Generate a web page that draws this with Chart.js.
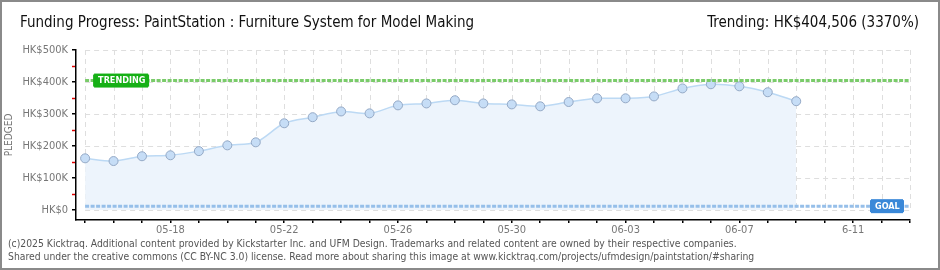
<!DOCTYPE html>
<html lang="en">
<head>
  <meta charset="utf-8">
  <title>Funding Progress - PaintStation</title>
  <script src="https://cdn.jsdelivr.net/npm/chart.js@4"></script>
  <style>
    body { margin: 0; background: #fff; }
    #wrap { position: relative; width: 940px; height: 270px; overflow: hidden; }
    #graph { position: absolute; left: 0; top: 0; }
    #frame { position: absolute; left: 0; top: 0; width: 940px; height: 270px; box-sizing: border-box;
             border: 2px solid #8a8a8a; pointer-events: none; }
    .txt { position: absolute; white-space: nowrap; font-family: "DejaVu Sans Condensed", "DejaVu Sans", sans-serif; }
    #title { left: 20px; top: 13px; font-size: 15px; color: #111; }
    #trend { right: 21px; top: 13px; font-size: 15px; color: #111; }
    #foot { left: 8px; top: 237px; font-size: 10.3px; line-height: 13px; color: #555; }
  </style>
</head>
<body>
  <div id="wrap">
    <canvas id="graph" width="940" height="270"></canvas>
    <div id="title" class="txt">Funding Progress: PaintStation : Furniture System for Model Making</div>
    <div id="trend" class="txt">Trending: HK$404,506 (3370%)</div>
    <div id="foot" class="txt">(c)2025 Kicktraq. Additional content provided by Kickstarter Inc. and UFM Design. Trademarks and related content are owned by their respective companies.<br>Shared under the creative commons (CC BY-NC 3.0) license. Read more about sharing this image at www.kicktraq.com/projects/ufmdesign/paintstation/#sharing</div>
    <div id="frame"></div>
  </div>
  <script>
    // days on the x axis, 05-15 .. 06-13
    const dates = ['05-15','05-16','05-17','05-18','05-19','05-20','05-21','05-22','05-23','05-24',
                   '05-25','05-26','05-27','05-28','05-29','05-30','05-31','06-01','06-02','06-03',
                   '06-04','06-05','06-06','06-07','06-08','06-09','06-10','06-11','06-12','06-13'];
    // labels shown under every 4th day starting at 05-18
    const dateLabels = ['05-18','05-22','05-26','05-30','06-03','06-07','6-11'];
    // pledged per day (HK$)
    const pledged = [161500,153000,168000,171000,184000,202000,211500,271000,290000,308000,
                     302000,327000,333000,343000,333000,330000,324000,337500,349000,349000,
                     355000,380000,393000,386500,368000,340000];
    const trending = 404506;
    const goal = 12003;
    const yTicks = [0,100000,200000,300000,400000,500000];
    const yMinor = [50000,150000,250000,350000,450000];

    const FONT = '"DejaVu Sans Condensed", "DejaVu Sans", sans-serif';
    Chart.defaults.font.family = FONT;

    function dashedGrid(chart) {
      const ctx = chart.ctx, xs = chart.scales.x, ys = chart.scales.y;
      const x0 = xs.getPixelForValue(0), x1 = xs.getPixelForValue(dates.length - 1);
      const yTop = ys.getPixelForValue(yTicks[yTicks.length - 1]), yBot = ys.getPixelForValue(0);
      ctx.save();
      ctx.strokeStyle = '#dedede';
      ctx.lineWidth = 1;
      ctx.setLineDash([5, 4]);
      for (var i = 0; i < dates.length; i++) {
        var x = Math.round(xs.getPixelForValue(i)) + 0.5;
        ctx.beginPath(); ctx.moveTo(x, yTop); ctx.lineTo(x, yBot); ctx.stroke();
      }
      yTicks.forEach(v => {
        var y = Math.round(ys.getPixelForValue(v)) + 0.5;
        ctx.beginPath(); ctx.moveTo(x0, y); ctx.lineTo(x1, y); ctx.stroke();
      });
      ctx.restore();
    }

    function badge(ctx, text, x, y, w, h, color) {
      ctx.fillStyle = color;
      ctx.fillRect(x + 1, y, w - 2, h);
      ctx.fillRect(x, y + 1, w, h - 2);
      ctx.fillStyle = '#fff';
      ctx.font = 'bold 9px ' + FONT;
      ctx.textBaseline = 'middle';
      ctx.textAlign = 'left';
      ctx.fillText(text, x + 5, y + h / 2 + 0.5);
    }

    const extras = {
      id: 'extras',
      beforeDatasetsDraw(chart) { dashedGrid(chart); },
      afterDatasetsDraw(chart) {
        const ctx = chart.ctx, xs = chart.scales.x, ys = chart.scales.y;
        ctx.save();
        var yt = ys.getPixelForValue(trending);
        badge(ctx, 'TRENDING', xs.getPixelForValue(0) + 8, yt - 7, 56, 14, '#16b016');
        var yg = ys.getPixelForValue(goal);
        badge(ctx, 'GOAL', xs.getPixelForValue(dates.length - 1) - 40, yg - 7, 34, 14, '#3a88d8');
        // red minor ticks on the y axis
        ctx.strokeStyle = '#e00000';
        ctx.lineWidth = 1.5;
        yMinor.forEach(v => {
          var y = Math.round(ys.getPixelForValue(v)) + 0.5;
          ctx.beginPath(); ctx.moveTo(xs.left - 4, y); ctx.lineTo(xs.left - 1, y); ctx.stroke();
        });
        ctx.restore();
      }
    };

    const flat = v => [{ x: 0, y: v }, { x: dates.length - 1, y: v }];

    new Chart(document.getElementById('graph'), {
      type: 'line',
      data: {
        datasets: [{
          data: pledged.map((v, i) => ({ x: i, y: v })),
          fill: 'origin',
          backgroundColor: '#edf4fc',
          borderColor: '#bcd9f4',
          borderWidth: 1.5,
          tension: 0.3,
          pointRadius: 4.5,
          pointBackgroundColor: '#c6ddf6',
          pointBorderColor: '#94a9c6',
          pointBorderWidth: 1,
          order: 2
        }, {
          data: flat(trending),
          borderColor: '#7acb6a',
          borderWidth: 3,
          borderDash: [4, 1.5],
          pointRadius: 0,
          fill: false,
          order: 1
        }, {
          data: flat(goal),
          borderColor: '#96bfe9',
          borderWidth: 3,
          borderDash: [4, 1.5],
          pointRadius: 0,
          fill: false,
          order: 1
        }]
      },
      options: {
        responsive: false,
        animation: false,
        events: [],
        layout: { padding: { left: 0, right: 30, top: 50, bottom: 0 } },
        plugins: { legend: { display: false }, tooltip: { enabled: false } },
        scales: {
          x: {
            type: 'linear',
            min: -0.32,
            max: dates.length - 1,
            afterBuildTicks: s => { s.ticks = dates.map((d, i) => ({ value: i })); },
            afterFit: s => { s.height = 50; },
            ticks: {
              autoSkip: false,
              maxRotation: 0,
              padding: 1,
              color: '#777',
              font: { size: 11 },
              callback: (v, i) => (i >= 3 && (i - 3) % 4 === 0) ? dateLabels[(i - 3) / 4] : ''
            },
            grid: { drawOnChartArea: false, drawTicks: true, tickLength: 3, color: '#000', lineWidth: 1.5 },
            border: { color: '#000', width: 1.5 }
          },
          y: {
            min: -31250,
            max: 500000,
            afterBuildTicks: s => { s.ticks = yTicks.map(v => ({ value: v })); },
            afterFit: s => { s.width = 76; },
            ticks: {
              padding: 4,
              color: '#777',
              font: { size: 11 },
              callback: v => v === 0 ? 'HK$0' : 'HK$' + (v / 1000) + 'K'
            },
            grid: { drawOnChartArea: false, drawTicks: true, tickLength: 4, color: '#000', lineWidth: 1.5 },
            border: { color: '#000', width: 1.5 },
            title: { display: true, text: 'PLEDGED', color: '#777', font: { size: 10 }, padding: { top: 3, bottom: 0 } }
          }
        }
      },
      plugins: [extras]
    });
  </script>
</body>
</html>
